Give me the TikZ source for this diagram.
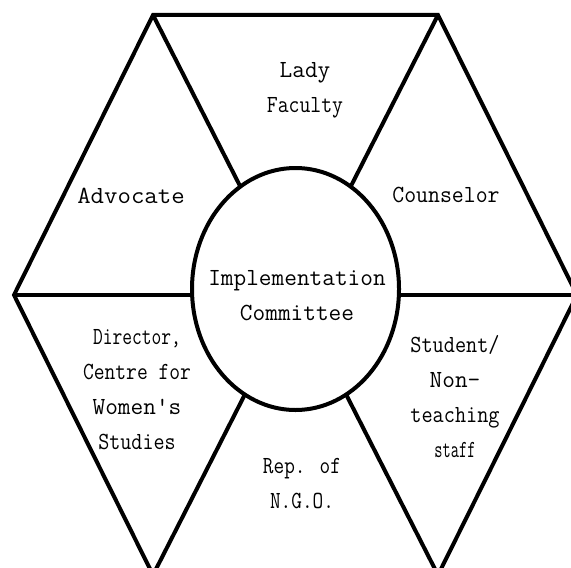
\documentclass[tikz,border=0pt]{standalone}
\usepackage{graphicx}
\usetikzlibrary{shapes.geometric}
\newcommand{\sq}[2]{\scalebox{#1}[1]{#2}}
\begin{document}
\begin{tikzpicture}[x=0.5pt,y=-0.5pt,
  edge/.style={line width=2pt, line join=miter},
  lbl/.style={font=\ttfamily\fontsize{12.3}{17.5}\selectfont, align=center, inner sep=0pt}]
\useasboundingbox (0,0) rectangle (571,567);
\clip (0,0) rectangle (571,567);
\coordinate (TL) at (153,15);
\coordinate (TR) at (438,15);
\coordinate (R) at (577,295);
\coordinate (BR) at (438,575);
\coordinate (BL) at (153,575);
\coordinate (L) at (14,295);
\draw[edge] (TL) -- (TR) -- (R) -- (BR) -- (BL) -- (L) -- cycle;
\draw[edge] (TL) -- (BR);
\draw[edge] (TR) -- (BL);
\draw[edge] (L) -- (R);
\node[ellipse, draw, line width=2pt, fill=white, minimum width=103.5pt, minimum height=121pt, inner sep=0pt] (ic) at (295.5,289) {};
\node[lbl] (icl) at (297,296) {Implementation\\Committee};
\node[lbl] (lady) at (305,90) {Lady\\\sq{0.86}{Faculty}};
\node[lbl] (adv) at (131,196) {\sq{1.06}{Advocate}};
\node[lbl] (cou) at (446,195) {\sq{0.94}{Counselor}};
\node[lbl] (dir) at (137,390) {\sq{0.77}{Director,}\\\sq{0.85}{Centre for}\\Women's\\\sq{0.87}{Studies}};
\node[lbl] (stu) at (455,397) {\sq{0.88}{Student/}\\Non-\\\sq{0.88}{teaching}\\\sq{0.65}{staff}};
\node[lbl] (rep) at (302,484) {\sq{0.84}{Rep. of}\\\sq{0.84}{N.G.O.}};
\end{tikzpicture}
\end{document}
